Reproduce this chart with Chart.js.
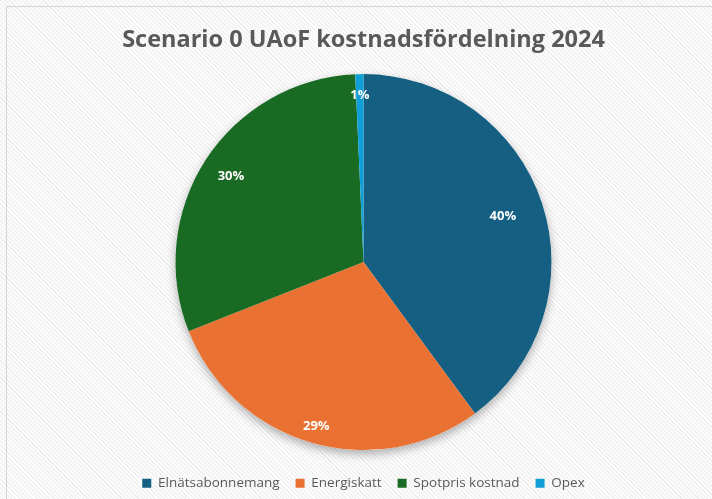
<!DOCTYPE html>
<html lang="sv">
<head>
<meta charset="UTF-8">
<title>Scenario 0 UAoF kostnadsfördelning 2024</title>
<script src="https://cdn.jsdelivr.net/npm/chart.js"></script>
<style>
    html, body {
        margin: 0;
        padding: 0;
        width: 712px;
        height: 499px;
        overflow: hidden;
        background-color: #f6f6f6;
        background-image: repeating-linear-gradient(45deg, rgba(255,255,255,0.9) 0 1.5px, rgba(235,235,235,0.5) 1.5px 3px);
    }

    .frame {
        position: absolute;
        left: 6px;
        top: 6px;
        width: 720px;
        height: 510px;
        border-left: 1px solid #d4d4d4;
        border-top: 1px solid #d4d4d4;
    }

    .chart-container {
        position: absolute;
        left: 7px;
        top: 7px;
        width: 705px;
        height: 493px;
    }
</style>
</head>
<body>
<div class="frame"></div>
<div class="chart-container">
    <canvas id="myChart"></canvas>
</div>
<script>
    const TITLE = 'Scenario 0 UAoF kostnadsfördelning 2024';
    const categories = ['Elnätsabonnemang', 'Energiskatt', 'Spotpris kostnad', 'Opex'];
    const shares = [39.9, 29.1, 30.3, 0.7];
    const colors = ['#156082', '#E97132', '#196B24', '#0F9ED5'];

    // how far out along the bisector each percent label sits (fraction of radius)
    const labelRadius = [0.78, 0.91, 0.84, 0.89];

    const pieShadow = {
        id: 'pieShadow',
        beforeDatasetsDraw(chart) {
            const arc = chart.getDatasetMeta(0).data[0];
            if (!arc) return;
            const c = chart.ctx;
            c.save();
            c.shadowColor = 'rgba(0,0,0,0.3)';
            c.shadowBlur = 10;
            c.shadowOffsetY = 4;
            c.fillStyle = '#ffffff';
            c.beginPath();
            c.arc(arc.x, arc.y, arc.outerRadius, 0, Math.PI * 2);
            c.fill();
            c.restore();
        }
    };

    const pctLabels = {
        id: 'pctLabels',
        afterDatasetsDraw(chart) {
            const c = chart.ctx;
            const meta = chart.getDatasetMeta(0);
            const total = shares.reduce((a, b) => a + b, 0);
            c.save();
            c.fillStyle = '#ffffff';
            c.font = 'bold 13px "Open Sans", sans-serif';
            c.textAlign = 'center';
            c.textBaseline = 'middle';
            meta.data.forEach((arc, i) => {
                const mid = (arc.startAngle + arc.endAngle) / 2;
                const r = arc.outerRadius * labelRadius[i];
                const x = arc.x + Math.cos(mid) * r;
                const y = arc.y + Math.sin(mid) * r;
                c.fillText(Math.round(shares[i] / total * 100) + '%', x, y);
            });
            c.restore();
        }
    };

    const ctx = document.getElementById('myChart');
    const chart = new Chart(ctx, {
        type: 'pie',
        data: {
            labels: categories,
            datasets: [{
                data: shares,
                backgroundColor: colors,
                borderWidth: 0,
                radius: 188
            }]
        },
        options: {
            animation: false,
            responsive: true,
            maintainAspectRatio: false,
            events: [],
            layout: {
                padding: { left: 8, right: 0, top: 0, bottom: 0 }
            },
            plugins: {
                tooltip: { enabled: false },
                title: {
                    display: true,
                    text: TITLE,
                    color: '#595959',
                    font: { family: '"Open Sans", sans-serif', size: 23.5, weight: 'bold' },
                    padding: { top: 19, bottom: 9.5 }
                },
                legend: {
                    position: 'bottom',
                    labels: {
                        boxWidth: 9,
                        boxHeight: 9,
                        padding: 16,
                        color: '#595959',
                        font: { family: '"Open Sans", sans-serif', size: 13.5 }
                    }
                }
            }
        },
        plugins: [pieShadow, pctLabels]
    });
</script>
</body>
</html>
